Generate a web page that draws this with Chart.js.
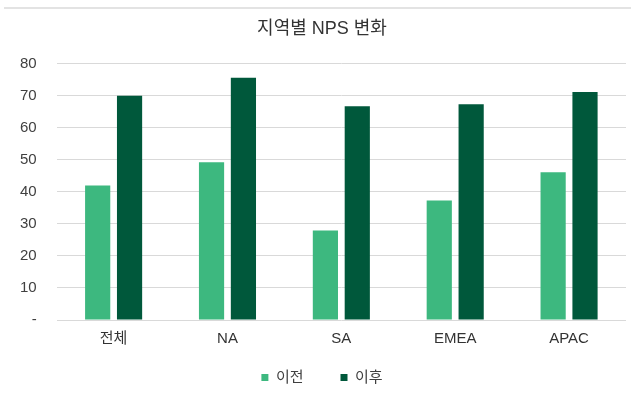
<!DOCTYPE html>
<html>
<head>
<meta charset="utf-8">
<script src="https://cdn.jsdelivr.net/npm/chart.js@4"></script>
<style>
  html, body { margin: 0; padding: 0; background: #fff; }
</style>
</head>
<body>
<canvas id="chart" width="631" height="400"></canvas>
<script>
// data
const regions = ['전체', 'NA', 'SA', 'EMEA', 'APAC'];
const before = [42, 49.2, 27.9, 37.3, 46.1];
const after = [70, 75.6, 66.7, 67.3, 71.1];
const seriesNames = ['이전', '이후'];
const yTicks = [0, 10, 20, 30, 40, 50, 60, 70, 80];

const FONT = '"Liberation Sans", "Noto Sans CJK KR", Arial, sans-serif';

// thin frame line along the top, plus small nudges of title and legend
const extras = {
  id: 'extras',
  afterLayout(chart) {
    chart.legend.left += 9;
    chart.legend.right += 9;
    chart.titleBlock.left += 9;
    chart.titleBlock.right += 9;
  },
  beforeDraw(chart) {
    const c = chart.ctx;
    c.save();
    c.strokeStyle = '#E3E3E3';
    c.lineWidth = 2;
    c.beginPath();
    c.moveTo(4, 8);
    c.lineTo(chart.width, 8);
    c.stroke();
    c.restore();
  },
};

const ctx = document.getElementById('chart').getContext('2d');
const chart = new Chart(ctx, {
  type: 'bar',
  data: {
    labels: regions,
    datasets: [
      {
        label: seriesNames[0],
        data: before,
        backgroundColor: '#3DB87F',
        borderWidth: 0,
      },
      {
        label: seriesNames[1],
        data: after,
        backgroundColor: '#00583B',
        borderWidth: 0,
      },
    ],
  },
  plugins: [extras],
  options: {
    responsive: false,
    animation: false,
    categoryPercentage: 0.56,
    barPercentage: 0.79,
    layout: { padding: { left: 0, right: 5, top: 10, bottom: 5 } },
    plugins: {
      title: {
        display: true,
        text: '지역별 NPS 변화',
        color: '#333333',
        font: { family: FONT, size: 18, weight: 'normal' },
        padding: { top: 8, bottom: 24 },
      },
      legend: {
        position: 'bottom',
        labels: {
          color: '#404040',
          font: { family: FONT, size: 15 },
          boxWidth: 7,
          boxHeight: 7,
          padding: 12,
          // extra spaces widen the gap between the two entries
          generateLabels: (ch) => {
            const items = Chart.defaults.plugins.legend.labels.generateLabels(ch);
            items[0].text = items[0].text + '      ';
            return items;
          },
        },
      },
      tooltip: { enabled: false },
    },
    scales: {
      x: {
        grid: { display: false, drawTicks: false },
        border: { display: false },
        ticks: {
          color: '#333333',
          font: { family: FONT, size: 15 },
          padding: 10,
        },
      },
      y: {
        min: 0,
        max: 80,
        afterBuildTicks: (axis) => {
          axis.ticks = yTicks.map(v => ({ value: v }));
        },
        grid: { color: '#D9D9D9', lineWidth: 1, drawTicks: false },
        border: { display: false },
        ticks: {
          color: '#404040',
          font: { family: FONT, size: 15 },
          padding: 20,
          callback: (v) => (v === 0 ? '-' : v),
        },
      },
    },
  },
});
</script>
</body>
</html>
